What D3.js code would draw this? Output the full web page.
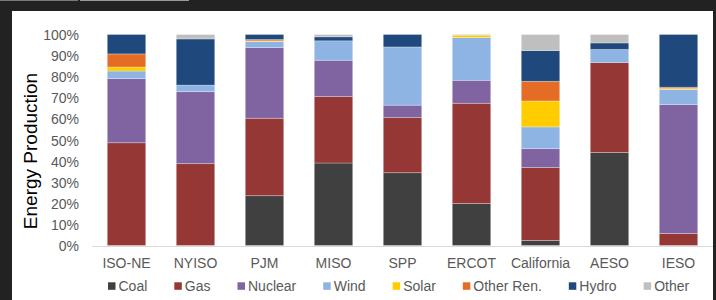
<!DOCTYPE html>
<html><head><meta charset="utf-8">
<script src="https://cdn.jsdelivr.net/npm/d3@7"></script>
<style>html,body{margin:0;padding:0;background:#222222;}svg{display:block;}</style>
</head><body>
<script>
const categories = ["ISO-NE","NYISO","PJM","MISO","SPP","ERCOT","California","AESO","IESO"];
const seriesNames = ["Coal","Gas","Nuclear","Wind","Solar","Other Ren.","Hydro","Other"];
const seriesColors = ["#404040","#953735","#8064A2","#8EB4E3","#FFCC00","#E46C24","#1F497D","#BFBFBF"];
const coal     = [0,    0,    23.6, 39.1, 34.5, 19.9, 2.4,  44.1, 0];
const gas      = [48.7, 38.8, 36.7, 31.5, 26.1, 47.5, 34.6, 42.6, 5.7];
const nuclear  = [30.4, 34.1, 33.5, 17.2, 5.9,  10.9, 8.9,  0,    61.1];
const wind     = [3.6,  3.1,  2.9,  9.2,  27.6, 20.3, 10.3, 6.2,  7.1];
const solar    = [1.9,  0,    0.3,  0,    0,    1.1,  12.3, 0,    0.5];
const otherRen = [6.2,  0,    0.6,  0,    0,    0,    9.3,  0,    0.6];
const hydro    = [9.2,  21.9, 2.4,  1.9,  5.9,  0,    14.6, 3.1,  25.0];
const other    = [0,    2.1,  0,    1.1,  0,    0.3,  7.6,  4.0,  0];
const yTicks = [0,10,20,30,40,50,60,70,80,90,100];
const yTitle = "Energy Production";

const seriesValues = [coal, gas, nuclear, wind, solar, otherRen, hydro, other];
const table = categories.map((c, i) => {
  const row = {cat: c};
  seriesNames.forEach((s, j) => row[s] = seriesValues[j][i]);
  return row;
});
const stacked = d3.stack().keys(seriesNames)(table);

const W = 716, H = 300;
const svg = d3.select("body").append("svg").attr("width", W).attr("height", H);
svg.append("rect").attr("width", W).attr("height", H).attr("fill", "#222222");
svg.append("rect").attr("x", 0).attr("y", 0).attr("width", 78).attr("height", 1).attr("fill", "#7a7a7a");
svg.append("rect").attr("x", 80).attr("y", 0).attr("width", 109).attr("height", 1).attr("fill", "#9a9a9a");
svg.append("rect").attr("x", 12).attr("y", 11).attr("width", 701).attr("height", 289).attr("fill", "#ffffff");

const x = d3.scaleBand().domain(categories).range([92, 713]).paddingInner(0.443).paddingOuter(0.2215);
const y = d3.scaleLinear().domain([0, 100]).range([245.5, 34.5]);
const color = d3.scaleOrdinal().domain(seriesNames).range(seriesColors);

// y axis labels
const yAxis = d3.axisLeft(y).tickValues(yTicks).tickFormat(d => d + "%").tickSize(0).tickPadding(0);
const ya = svg.append("g").attr("transform", "translate(79,0)").call(yAxis);
ya.select(".domain").remove();
ya.selectAll("text").attr("font-family", "Liberation Sans, Arial, sans-serif").attr("font-size", 14).attr("fill", "#595959").attr("dy", "0.36em");

// bars
svg.append("g").selectAll("g").data(stacked).join("g")
  .attr("fill", d => color(d.key))
  .selectAll("rect").data(d => d).join("rect")
  .attr("x", d => x(d.data.cat))
  .attr("width", x.bandwidth())
  .attr("y", d => y(d[1]))
  .attr("height", d => Math.max(0, y(d[0]) - y(d[1])))
  .attr("stroke", "rgba(255,255,255,0.35)")
  .attr("stroke-width", 0.8);

// x axis
const xAxis = d3.axisBottom(x).tickSize(0).tickPadding(12);
const xa = svg.append("g").attr("transform", "translate(0,246)").call(xAxis);
xa.select(".domain").attr("stroke", "#d9d9d9").attr("stroke-width", 1).attr("d", "M92,0.5H713");
xa.selectAll("text").attr("font-family", "Liberation Sans, Arial, sans-serif").attr("font-size", 14).attr("fill", "#595959");

// y title
svg.append("text").attr("transform", "translate(37,151) rotate(-90)")
  .attr("text-anchor", "middle").attr("font-family", "Liberation Sans, Arial, sans-serif")
  .attr("font-size", 19).attr("fill", "#000").text(yTitle);

// legend
const lg = svg.append("g");
let lx = 108;
seriesNames.forEach((s, i) => {
  const g = lg.append("g").attr("transform", `translate(${lx},0)`);
  g.append("rect").attr("x", 0).attr("y", 282.3).attr("width", 7.5).attr("height", 7.5).attr("fill", seriesColors[i]);
  const t = g.append("text").attr("x", 10.5).attr("y", 290.7).attr("font-family", "Liberation Sans, Arial, sans-serif")
    .attr("font-size", 14).attr("fill", "#595959").text(s);
  lx += 10.5 + t.node().getComputedTextLength() + 27;
});
</script>
</body></html>
